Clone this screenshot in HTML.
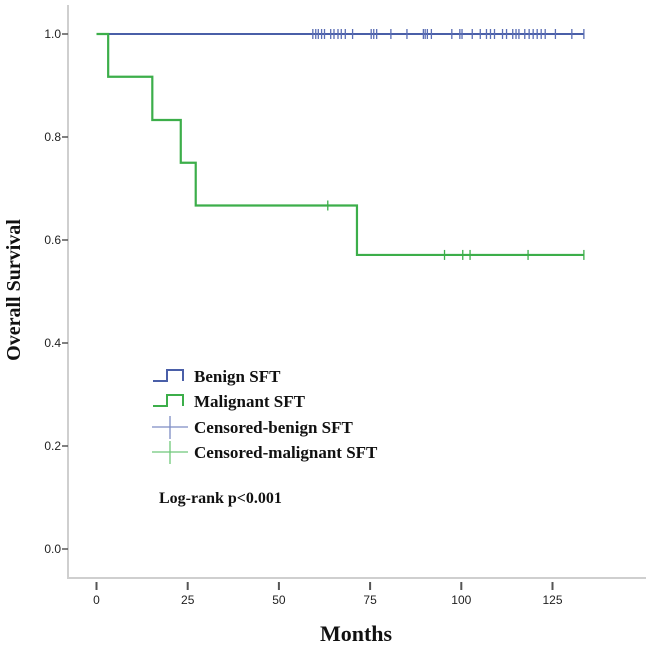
<!DOCTYPE html>
<html><head><meta charset="utf-8">
<style>
html,body{margin:0;padding:0;background:#fff;}
svg{display:block;}
.tk{font-family:"Liberation Sans",sans-serif;font-size:12px;fill:#222;}
.lg{font-family:"Liberation Serif",serif;font-weight:bold;font-size:17px;fill:#111;}
</style></head>
<body>
<svg id="chart" width="646" height="646" viewBox="0 0 646 646">
<line x1="68" y1="5" x2="68" y2="578" stroke="#cfcfcf" stroke-width="2"/>
<line x1="67" y1="578" x2="646" y2="578" stroke="#cfcfcf" stroke-width="2"/>
<g id="yticks"></g>
<g id="xticks"></g>
<g id="series"></g>
<text x="20" y="290" transform="rotate(-90 20 290)" text-anchor="middle" class="lg" style="font-size:20px">Overall Survival</text>
<text x="356" y="641" text-anchor="middle" class="lg" style="font-size:22px">Months</text>
<g>
  <path d="M153 381 H167 V370 H183 V381" fill="none" stroke="#4a5fa8" stroke-width="2"/>
  <text x="194" y="382" class="lg">Benign SFT</text>
  <path d="M153 406 H167 V395 H183 V406" fill="none" stroke="#3cae4a" stroke-width="2"/>
  <text x="194" y="407" class="lg">Malignant SFT</text>
  <path d="M152 427 H188 M170 416 V439" stroke="#7d8cc4" stroke-width="1.3"/>
  <text x="194" y="433" class="lg">Censored-benign SFT</text>
  <path d="M152 452 H188 M170 441 V464" stroke="#6fc87a" stroke-width="1.3"/>
  <text x="194" y="458" class="lg">Censored-malignant SFT</text>
</g>
<text x="159" y="503" class="lg" style="font-size:16px">Log-rank p&lt;0.001</text>
</svg>
<script>
const yTicks=[0,0.2,0.4,0.6,0.8,1.0];
const yTickLabels=["0.0","0.2","0.4","0.6","0.8","1.0"];
const xTicks=[0,25,50,75,100,125];
const xTickLabels=["0","25","50","75","100","125"];
const malignantTimes=[0,3.2,15.3,23.1,27.2,71.4,133.6];
const malignantSurv=[1.0,0.917,0.833,0.75,0.667,0.571,0.571];
const malignantCensor=[63.4,95.4,100.4,102.4,118.3,133.6];
const benignEnd=133.6;
const benignSurv=1.0;
const benignCensor=[59.3,60.1,60.8,61.7,62.5,64.2,65.1,66.2,67.1,68.2,70.2,75.3,76.0,76.8,80.7,85.1,89.6,90.1,90.7,91.8,97.4,99.6,100.2,103,105.2,106.9,108,109.1,111.3,112.4,114.1,115,115.8,117.4,118.6,119.7,120.8,121.9,123,125.8,130.3,133.6];

const X=m=>96.5+m*3.648;
const Y=v=>549-v*515;
const NS='http://www.w3.org/2000/svg';
function mk(tag,attrs,parent){const e=document.createElementNS(NS,tag);for(const k in attrs)e.setAttribute(k,attrs[k]);parent.appendChild(e);return e;}
const yg=document.getElementById('yticks'),xg=document.getElementById('xticks'),sg=document.getElementById('series');
yTicks.forEach((v,i)=>{
  const l=mk('line',{x1:62,x2:68,y1:Y(v),y2:Y(v),stroke:'#555','stroke-width':1.5},yg);
  
  
  const t=mk('text',{x:61,y:Y(v)+4,'text-anchor':'end',class:'tk'},yg);t.textContent=yTickLabels[i];
  
  
});
xTicks.forEach((m,i)=>{
  const l=mk('line',{x1:X(m),x2:X(m),y1:582,y2:590,stroke:'#555','stroke-width':2},xg);
  
  
  const t=mk('text',{x:X(m),y:604,'text-anchor':'middle',class:'tk'},xg);t.textContent=xTickLabels[i];
  
  
});
// benign line
const bl=mk('line',{x1:X(0),x2:X(benignEnd),y1:Y(benignSurv),y2:Y(benignSurv),stroke:'#4a5fa8','stroke-width':2},sg);


// malignant step
let d='M'+X(malignantTimes[0])+' '+Y(malignantSurv[0]);
for(let i=1;i<malignantTimes.length;i++){d+=' H'+X(malignantTimes[i])+' V'+Y(malignantSurv[i]);}
const mp=mk('path',{d:d,fill:'none',stroke:'#3cae4a','stroke-width':2.2},sg);


function survAt(t){let s=malignantSurv[0];for(let i=0;i<malignantTimes.length;i++){if(malignantTimes[i]<=t)s=malignantSurv[i];}return s;}
benignCensor.forEach(m=>{
  const c=mk('line',{x1:X(m),x2:X(m),y1:Y(benignSurv)-5,y2:Y(benignSurv)+5,stroke:'#5a6db4','stroke-width':1.3},sg);
  
  
});
malignantCensor.forEach(m=>{
  const y=Y(survAt(m));
  const c=mk('line',{x1:X(m),x2:X(m),y1:y-5,y2:y+5,stroke:'#3cae4a','stroke-width':1.3},sg);
  
  
});
</script>
</body></html>
